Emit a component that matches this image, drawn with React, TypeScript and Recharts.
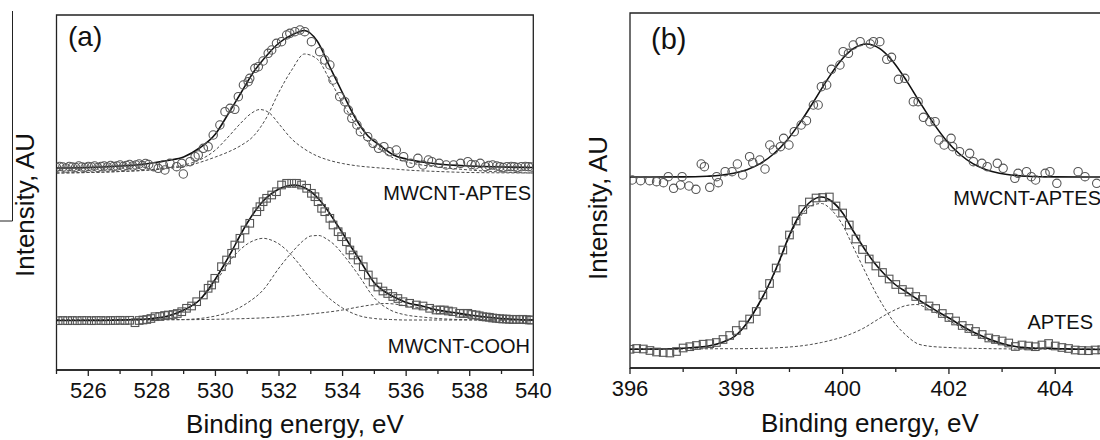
import { ComposedChart, Line, ReferenceArea, Scatter, XAxis, YAxis } from "recharts";

type Pt = [number, number];

// ---- panel (a): O 1s ----
const A_TICKS = [525, 526, 527, 528, 529, 530, 531, 532, 533, 534, 535, 536, 537, 538, 539, 540];

// MWCNT-APTES measured points (circles)
const A_TOP_POINTS: Pt[] = [
  [525.0, 202.5], [525.1, 203.5], [525.2, 203], [525.3, 202], [525.4, 203.5], [525.5, 203],
  [525.6, 202.5], [525.7, 204], [525.8, 203], [525.9, 202.5], [526.0, 203.5], [526.1, 203],
  [526.2, 204], [526.3, 202.5], [526.4, 203.5], [526.5, 204], [526.6, 203], [526.7, 204.5],
  [526.8, 203.5], [526.9, 204], [527.0, 205], [527.1, 203.5], [527.2, 204.5], [527.3, 205.5],
  [527.4, 204], [527.5, 205], [527.6, 206], [527.7, 204.5], [527.8, 206.5], [527.9, 205.5],
  [528.05, 203.3], [528.2, 201.7], [528.36, 205], [528.41, 200], [528.57, 206.7], [528.78, 203.3],
  [528.94, 206.7], [528.99, 196], [529.2, 208.3], [529.36, 213.3], [529.46, 215], [529.62, 221.7],
  [529.77, 223.3], [529.93, 235], [530.14, 245], [530.3, 258.3], [530.46, 261.7], [530.61, 260.7],
  [530.72, 273.3], [530.88, 285], [531.03, 288.3], [531.08, 291.7], [531.24, 301.7], [531.35, 303.3],
  [531.5, 309], [531.66, 316.7], [531.77, 320], [531.92, 326.7], [532.08, 328.3], [532.24, 335],
  [532.34, 336.7], [532.5, 338.3], [532.66, 340], [532.81, 338.3], [533.02, 328.3], [533.28, 318.3],
  [533.44, 310], [533.6, 305], [533.7, 290], [533.91, 273.3], [534.07, 268.3], [534.18, 260],
  [534.29, 251.7], [534.45, 245], [534.56, 238.3], [534.79, 233.3], [534.96, 226.7], [535.13, 221.7],
  [535.3, 223.3], [535.47, 218.3], [535.69, 220], [535.92, 213.3], [536.14, 206.7], [536.37, 211.7],
  [536.53, 205], [536.7, 210], [536.81, 208.3], [537.04, 206.7], [537.26, 205], [537.49, 205],
  [537.71, 206.7], [537.94, 208.3], [538.05, 205.5], [538.17, 205], [538.33, 206.7], [538.5, 203.3],
  [538.6, 204.5], [538.72, 205], [538.85, 204], [538.95, 203.3], [539.05, 202.5], [539.17, 203.3],
  [539.3, 203.5], [539.4, 203.3], [539.5, 202.5], [539.62, 203.3], [539.75, 203.5], [539.85, 203.3],
  [539.95, 203],
];

const A_TOP_FIT: Pt[] = [
  [525, 202], [526, 202.5], [527, 204], [527.5, 205], [528, 207], [528.5, 209.5], [529, 213],
  [529.5, 222], [530, 236], [530.4, 256], [530.8, 277], [531.2, 298], [531.6, 314], [532, 327],
  [532.4, 335], [532.8, 339.5], [533.2, 329], [533.6, 303], [534, 277], [534.4, 252], [534.8, 234],
  [535.2, 224], [535.6, 215], [536, 211], [536.5, 208], [537, 206], [538, 204], [539, 203], [540, 202.5],
];

const A_TOP_C1: Pt[] = [
  [525, 197], [526, 197.5], [527, 198.5], [528, 200.5], [528.5, 202.5], [529, 205], [529.5, 210],
  [530, 220], [530.4, 233], [530.8, 247], [531.1, 256], [531.4, 260.5], [531.7, 257], [532, 246],
  [532.4, 231], [532.8, 221], [533.2, 214], [533.6, 209.5], [534, 206.5], [534.5, 204], [535, 202.5],
  [535.6, 201], [536, 200], [537, 198.5], [538, 197.5], [540, 197],
];

const A_TOP_C2: Pt[] = [
  [525, 197], [526, 197.5], [527, 198.5], [528, 200], [528.5, 201.5], [529, 203.5], [529.5, 207.5],
  [530, 213], [530.4, 218], [530.8, 224.5], [531.2, 234], [531.6, 252], [532, 278], [532.4, 300],
  [532.8, 316], [533.2, 311], [533.6, 290], [534, 267], [534.4, 246], [534.8, 228], [535.2, 220],
  [535.6, 212], [536, 208], [536.5, 205], [537, 203], [538, 200], [539, 198], [540, 197],
];

// MWCNT-COOH measured points (squares)
const A_BOT_POINTS: Pt[] = [
  [525.05, 49.3], [525.2, 49.5], [525.35, 49.3], [525.5, 49.5], [525.65, 49.3], [525.8, 49.5],
  [525.95, 49.5], [526.1, 49.3], [526.25, 49.5], [526.4, 49.5], [526.55, 49.3], [526.7, 49.5],
  [526.85, 49.5], [527.0, 49.7], [527.15, 49.5], [527.3, 49.7], [527.47, 47.3], [527.6, 49.5],
  [527.72, 50], [527.84, 50.5], [527.97, 51.5], [528.1, 53.3], [528.25, 53.5], [528.4, 54.5],
  [528.52, 55], [528.67, 55.5], [528.8, 56.5], [528.94, 58.3], [529.09, 61.7], [529.25, 64],
  [529.41, 68.3], [529.62, 75], [529.77, 81.7], [529.88, 85], [529.98, 91.7], [530.19, 103.3],
  [530.35, 110], [530.51, 116.7], [530.61, 125], [530.77, 131.7], [530.93, 140], [531.08, 146.7],
  [531.3, 158.3], [531.4, 163.3], [531.5, 168.3], [531.61, 171.7], [531.77, 175], [531.92, 178.3],
  [532.08, 185], [532.24, 186.7], [532.4, 186.7], [532.55, 186.7], [532.71, 185], [532.87, 181.7],
  [533.02, 176.7], [533.13, 173.3], [533.23, 168.3], [533.34, 161.7], [533.44, 158.3], [533.6, 151.7],
  [533.7, 145], [533.86, 138.3], [533.97, 133.3], [534.12, 128.3], [534.23, 120], [534.33, 115],
  [534.49, 110], [534.65, 103.3], [534.81, 95], [534.96, 88], [535.11, 83], [535.27, 79],
  [535.42, 76.5], [535.58, 73.5], [535.74, 71.5], [535.9, 68.3], [536.11, 66.7], [536.32, 65],
  [536.53, 64], [536.74, 61.7], [536.94, 60], [537.07, 60], [537.2, 60], [537.33, 59], [537.47, 58.3],
  [537.68, 56.7], [537.8, 56.5], [537.94, 56.7], [538.07, 55.5], [538.2, 55], [538.3, 54.2],
  [538.41, 53.3], [538.52, 53], [538.62, 52.7], [538.72, 52], [538.83, 51.7], [538.94, 51.3],
  [539.04, 51], [539.15, 51], [539.25, 50.7], [539.36, 50.5], [539.46, 50.7], [539.57, 50.5],
  [539.67, 50.7], [539.78, 50.3], [539.88, 50], [539.95, 50],
];

const A_BOT_FIT: Pt[] = [
  [525, 49.5], [526, 49.5], [527, 50], [527.5, 50.5], [528, 51.5], [528.5, 54], [529, 60], [529.5, 70],
  [530, 91], [530.25, 104], [530.5, 118], [530.75, 133], [531, 147], [531.25, 159], [531.5, 169],
  [531.75, 176], [532, 181], [532.25, 184], [532.5, 185], [532.75, 183], [533, 178.5], [533.25, 171],
  [533.5, 161], [533.75, 149], [534, 137], [534.25, 124], [534.5, 112], [534.75, 99], [535, 87],
  [535.25, 80], [535.5, 75], [535.75, 71], [536, 67.5], [536.5, 64], [537, 60], [537.5, 57.5],
  [538, 55], [538.5, 53], [539, 51.5], [539.5, 50.5], [540, 50],
];

const A_BOT_C1: Pt[] = [
  [525, 50], [527, 50], [528, 50.5], [528.5, 53], [529, 59], [529.5, 70], [530, 88], [530.5, 111],
  [530.75, 119.5], [531, 126], [531.25, 130], [531.5, 131.7], [531.75, 130], [532, 126], [532.25, 119.5],
  [532.5, 111], [533, 91], [533.5, 74], [534, 62], [534.5, 54.5], [535, 51.5], [535.5, 50.5], [536, 50],
  [538, 50], [540, 50],
];

const A_BOT_C2: Pt[] = [
  [525, 50], [529, 50.5], [529.5, 51.5], [530, 54], [530.5, 58.5], [531, 67], [531.5, 80], [532, 102],
  [532.25, 112], [532.5, 121], [532.75, 129], [533, 134], [533.25, 134.5], [533.5, 131], [533.75, 125],
  [534, 116], [534.5, 95], [535, 72], [535.5, 60], [536, 55], [536.5, 53], [537, 51.5], [538, 50.3],
  [540, 50],
];

const A_BOT_C3: Pt[] = [
  [525, 50], [529, 50.3], [530, 50.7], [531, 51.5], [532, 53], [533, 56], [534, 60], [534.5, 63],
  [535, 65.5], [535.3, 66.5], [535.75, 65.5], [536, 64], [536.5, 62], [537, 59], [537.5, 56.5],
  [538, 54], [538.5, 52.5], [539, 51.3], [540, 50.3],
];

// ---- panel (b): N 1s ----
const B_TICKS = [396, 397, 398, 399, 400, 401, 402, 403, 404, 405];

const B_TOP_POINTS: Pt[] = [
  [396.04, 188], [396.2, 187.3], [396.37, 187.3], [396.5, 186.3], [396.63, 185.3], [396.72, 191.3],
  [396.82, 179.7], [396.95, 183], [396.98, 191.3], [397.11, 182], [397.24, 178.7], [397.34, 204],
  [397.4, 201.3], [397.5, 180.7], [397.63, 191.3], [397.66, 185.3], [397.79, 196.3], [397.92, 196.3],
  [398.02, 204], [398.12, 193], [398.25, 211.3], [398.31, 205.3], [398.44, 208], [398.54, 199],
  [398.63, 223], [398.7, 218], [398.83, 221.3], [398.89, 229.7], [398.99, 223], [399.09, 236.3],
  [399.22, 243], [399.32, 247.3], [399.45, 263], [399.54, 263], [399.6, 281.3], [399.7, 283],
  [399.79, 298.7], [399.95, 303], [400.01, 316.3], [400.11, 314.7], [400.2, 323], [400.33, 326.3],
  [400.52, 324], [400.58, 326.3], [400.7, 326.3], [400.83, 308.7], [400.92, 310.7], [401.05, 288.7],
  [401.17, 289.7], [401.33, 266.3], [401.42, 266.3], [401.52, 250.7], [401.64, 246.3], [401.74, 246.3],
  [401.81, 228], [401.91, 223], [402.04, 229.7], [402.07, 221.3], [402.2, 216.3], [402.39, 214.7],
  [402.46, 206.3], [402.62, 204.7], [402.72, 201.3], [402.91, 204.7], [403.02, 199.7], [403.24, 189.7],
  [403.3, 194.7], [403.46, 196.3], [403.55, 191.3], [403.63, 188], [403.81, 194.7], [403.9, 196.3],
  [404.03, 184.7], [404.43, 196.3], [404.56, 191.3], [404.78, 184.7], [404.95, 190],
];

const B_TOP_FIT: Pt[] = [
  [396, 191], [397, 191.1], [397.45, 191.8], [397.7, 192.7], [397.95, 194.7], [398.2, 198.3],
  [398.45, 204.4], [398.7, 214], [398.95, 227.6], [399.2, 245.4], [399.45, 266], [399.7, 287.4],
  [399.95, 306.3], [400.2, 319.3], [400.45, 324], [400.7, 319.3], [400.95, 306.3], [401.2, 287.4],
  [401.45, 266], [401.7, 245.4], [401.95, 227.6], [402.2, 214], [402.45, 204.4], [402.7, 198.3],
  [402.95, 194.7], [403.2, 192.7], [403.45, 191.8], [404, 191.1], [405, 191],
];

const B_BOT_POINTS: Pt[] = [
  [396.0, 18.7], [396.125, 19.5], [396.25, 19], [396.375, 17.5], [396.5, 16], [396.625, 15.5],
  [396.75, 15], [396.875, 16.5], [397.0, 20], [397.125, 21.3], [397.25, 22.5], [397.375, 23.8],
  [397.5, 24.3], [397.625, 25.5], [397.75, 28.5], [397.875, 32.5], [398.0, 37.5], [398.125, 43],
  [398.25, 49], [398.375, 56.5], [398.5, 73], [398.625, 84.5], [398.75, 100], [398.875, 118],
  [399.0, 133], [399.125, 147], [399.25, 158.5], [399.375, 166], [399.5, 170], [399.625, 170.5],
  [399.75, 171], [399.875, 162], [400.0, 155], [400.125, 143], [400.25, 129], [400.375, 118.5],
  [400.5, 109], [400.625, 102], [400.75, 95.5], [400.875, 89], [401.0, 83.5], [401.125, 78.5],
  [401.25, 76], [401.375, 71.5], [401.5, 68.5], [401.625, 62], [401.75, 59.5], [401.875, 54.5],
  [402.0, 50.5], [402.125, 47], [402.25, 42.5], [402.375, 39.5], [402.5, 36.5], [402.625, 33.5],
  [402.75, 30], [402.875, 28.5], [403.0, 27], [403.125, 25], [403.25, 21.5], [403.375, 23],
  [403.5, 22], [403.625, 21.3], [403.75, 23], [403.875, 24.5], [404.0, 22], [404.125, 20.5],
  [404.25, 19.5], [404.375, 18], [404.5, 17.5], [404.625, 17.3], [404.75, 18], [404.875, 18.2],
  [405.0, 18],
];

const B_BOT_E = [
  396, 396.5, 397, 397.25, 397.5, 397.75, 398, 398.2, 398.4, 398.6, 398.8, 399, 399.2, 399.4, 399.6,
  399.8, 400, 400.2, 400.4, 400.6, 400.8, 401, 401.2, 401.4, 401.6, 401.8, 402, 402.2, 402.4, 402.6,
  402.8, 403, 403.25, 403.5, 404, 404.5, 405,
];
const B_BOT_FIT = [
  18.7, 19, 19.8, 20.8, 22.3, 26, 33, 45, 62, 82, 106, 133, 154, 166.5, 171, 166.5, 155, 137, 120,
  105, 93, 83, 76, 69, 62.5, 56, 50, 43.5, 37.5, 32.5, 28, 24.5, 21.5, 20, 19.5, 18.7, 18.5,
];
const B_BOT_C1 = [
  18.7, 19, 19.7, 20.6, 22, 25.8, 32.7, 44.5, 61, 81, 104.5, 131, 151, 162, 164.5, 157.5, 143, 121,
  99, 77.5, 59, 43.5, 32.5, 24.5, 22, 21, 20.5, 20, 19.7, 19.5, 19.3, 19.2, 19, 19, 18.8, 18.7, 18.7,
];
const B_BOT_C2 = [
  18.8, 18.9, 19, 19.1, 19.2, 19.3, 19.3, 19.4, 19.6, 19.8, 20.3, 21, 22, 23.5, 25.5, 28, 31, 35, 40,
  46.5, 53, 58.5, 62.5, 63.5, 59.5, 54, 47.5, 41.5, 35.5, 30.5, 26.5, 23.5, 21.5, 20.5, 19.5, 19, 19,
];

const rows = (pts: Pt[]) => pts.map(([e, v]) => ({ e, v }));
const zip = (es: number[], vs: number[]) => es.map((e, i) => ({ e, v: vs[i] }));

const FONT = "'Liberation Sans', Arial, sans-serif";
const AXIS = "#222";
const FIT = "#111";
const COMP = "#4a4a4a";
const MARK = "#555";

const makeTick = (labelEvery: number) => (props: any) => {
  const { x, y, payload } = props;
  const major = payload.value % labelEvery === 0;
  return (
    <g>
      <line x1={x} x2={x} y1={y} y2={y + (major ? 6 : 4)} stroke={AXIS} strokeWidth={1.3} />
      {major && (
        <text x={x} y={y + 28} textAnchor="middle" fontSize={22} fontFamily={FONT} fill="#111">
          {payload.value}
        </text>
      )}
    </g>
  );
};

const circle = (p: any) => (
  <circle cx={p.cx} cy={p.cy} r={4.2} fill="none" stroke={MARK} strokeWidth={1.1} />
);
const square = (p: any) => (
  <rect x={p.cx - 3.8} y={p.cy - 3.8} width={7.6} height={7.6} fill="none" stroke={MARK} strokeWidth={1.1} />
);

const fitLine = (data: { e: number; v: number }[], key: string, dashed = false) => (
  <Line
    key={key}
    data={data}
    dataKey="v"
    type="monotone"
    dot={false}
    activeDot={false}
    stroke={dashed ? COMP : FIT}
    strokeWidth={dashed ? 1 : 1.6}
    strokeDasharray={dashed ? "3 2" : undefined}
    isAnimationActive={false}
  />
);

const PanelA = () => (
  <ComposedChart width={560} height={440} margin={{ top: 15, right: 26.7, bottom: 40, left: 56.5 }}>
    <XAxis
      type="number"
      dataKey="e"
      domain={[525, 540]}
      ticks={A_TICKS}
      interval={0}
      allowDataOverflow
      height={30}
      tickSize={0}
      tickMargin={0}
      tickLine={false}
      axisLine={{ stroke: AXIS, strokeWidth: 1.3 }}
      tick={makeTick(2)}
    />
    <YAxis type="number" dataKey="v" domain={[0, 355]} hide allowDataOverflow />
    {fitLine(rows(A_TOP_C1), "atc1", true)}
    {fitLine(rows(A_TOP_C2), "atc2", true)}
    {fitLine(rows(A_BOT_C1), "abc1", true)}
    {fitLine(rows(A_BOT_C2), "abc2", true)}
    {fitLine(rows(A_BOT_C3), "abc3", true)}
    <Scatter data={rows(A_TOP_POINTS)} shape={circle} isAnimationActive={false} />
    <Scatter data={rows(A_BOT_POINTS)} shape={square} isAnimationActive={false} />
    {fitLine(rows(A_TOP_FIT), "atf")}
    {fitLine(rows(A_BOT_FIT), "abf")}
    <ReferenceArea x1={525} x2={540} y1={0} y2={355} fill="none" stroke={AXIS} strokeWidth={1.3} />
  </ComposedChart>
);

const PanelB = () => (
  <ComposedChart width={560} height={440} margin={{ top: 13, right: 11.6, bottom: 42, left: 70 }}>
    <XAxis
      type="number"
      dataKey="e"
      domain={[396, 405]}
      ticks={B_TICKS}
      interval={0}
      allowDataOverflow
      height={30}
      tickSize={0}
      tickMargin={0}
      tickLine={false}
      axisLine={{ stroke: AXIS, strokeWidth: 1.3 }}
      tick={makeTick(2)}
    />
    <YAxis type="number" dataKey="v" domain={[0, 355]} hide allowDataOverflow />
    {fitLine(zip(B_BOT_E, B_BOT_C1), "bbc1", true)}
    {fitLine(zip(B_BOT_E, B_BOT_C2), "bbc2", true)}
    <Scatter data={rows(B_TOP_POINTS)} shape={circle} isAnimationActive={false} />
    <Scatter data={rows(B_BOT_POINTS)} shape={square} isAnimationActive={false} />
    {fitLine(rows(B_TOP_FIT), "btf")}
    {fitLine(zip(B_BOT_E, B_BOT_FIT), "bbf")}
    <ReferenceArea x1={396} x2={405} y1={0} y2={355} fill="none" stroke={AXIS} strokeWidth={1.3} />
  </ComposedChart>
);

export default function App() {
  const txt = { fontFamily: FONT, fill: "#111" };
  return (
    <div
      style={{
        position: "absolute",
        left: 0,
        top: 0,
        width: 1100,
        height: 440,
        overflow: "hidden",
        background: "#fff",
      }}
    >
      <div style={{ position: "absolute", left: 0, top: 0 }}>
        <PanelA />
      </div>
      <div style={{ position: "absolute", left: 560, top: 0 }}>
        <PanelB />
      </div>
      <svg
        width={1100}
        height={440}
        style={{ position: "absolute", left: 0, top: 0, pointerEvents: "none" }}
      >
        <line x1={12.5} x2={12.5} y1={11} y2={221} stroke="#222" strokeWidth={1} />
        <line x1={0} x2={12.5} y1={221} y2={221} stroke="#222" strokeWidth={1} />
        <text x={68} y={46} fontSize={28} {...txt}>(a)</text>
        <text x={651} y={49} fontSize={29} {...txt}>(b)</text>
        <text x={531} y={200} fontSize={20} textAnchor="end" {...txt}>MWCNT-APTES</text>
        <text x={530} y={353} fontSize={20} textAnchor="end" {...txt}>MWCNT-COOH</text>
        <text x={1101} y={205} fontSize={20} textAnchor="end" {...txt}>MWCNT-APTES</text>
        <text x={1093} y={329} fontSize={20} textAnchor="end" {...txt}>APTES</text>
        <text x={295} y={433} fontSize={26} textAnchor="middle" {...txt}>Binding energy, eV</text>
        <text x={870} y={432} fontSize={26} textAnchor="middle" {...txt}>Binding energy, eV</text>
        <text x={34} y={205} fontSize={26} textAnchor="middle" transform="rotate(-90 34 205)" {...txt}>
          Intensity, AU
        </text>
        <text x={607} y={208} fontSize={26} textAnchor="middle" transform="rotate(-90 607 208)" {...txt}>
          Intensity, AU
        </text>
      </svg>
    </div>
  );
}
